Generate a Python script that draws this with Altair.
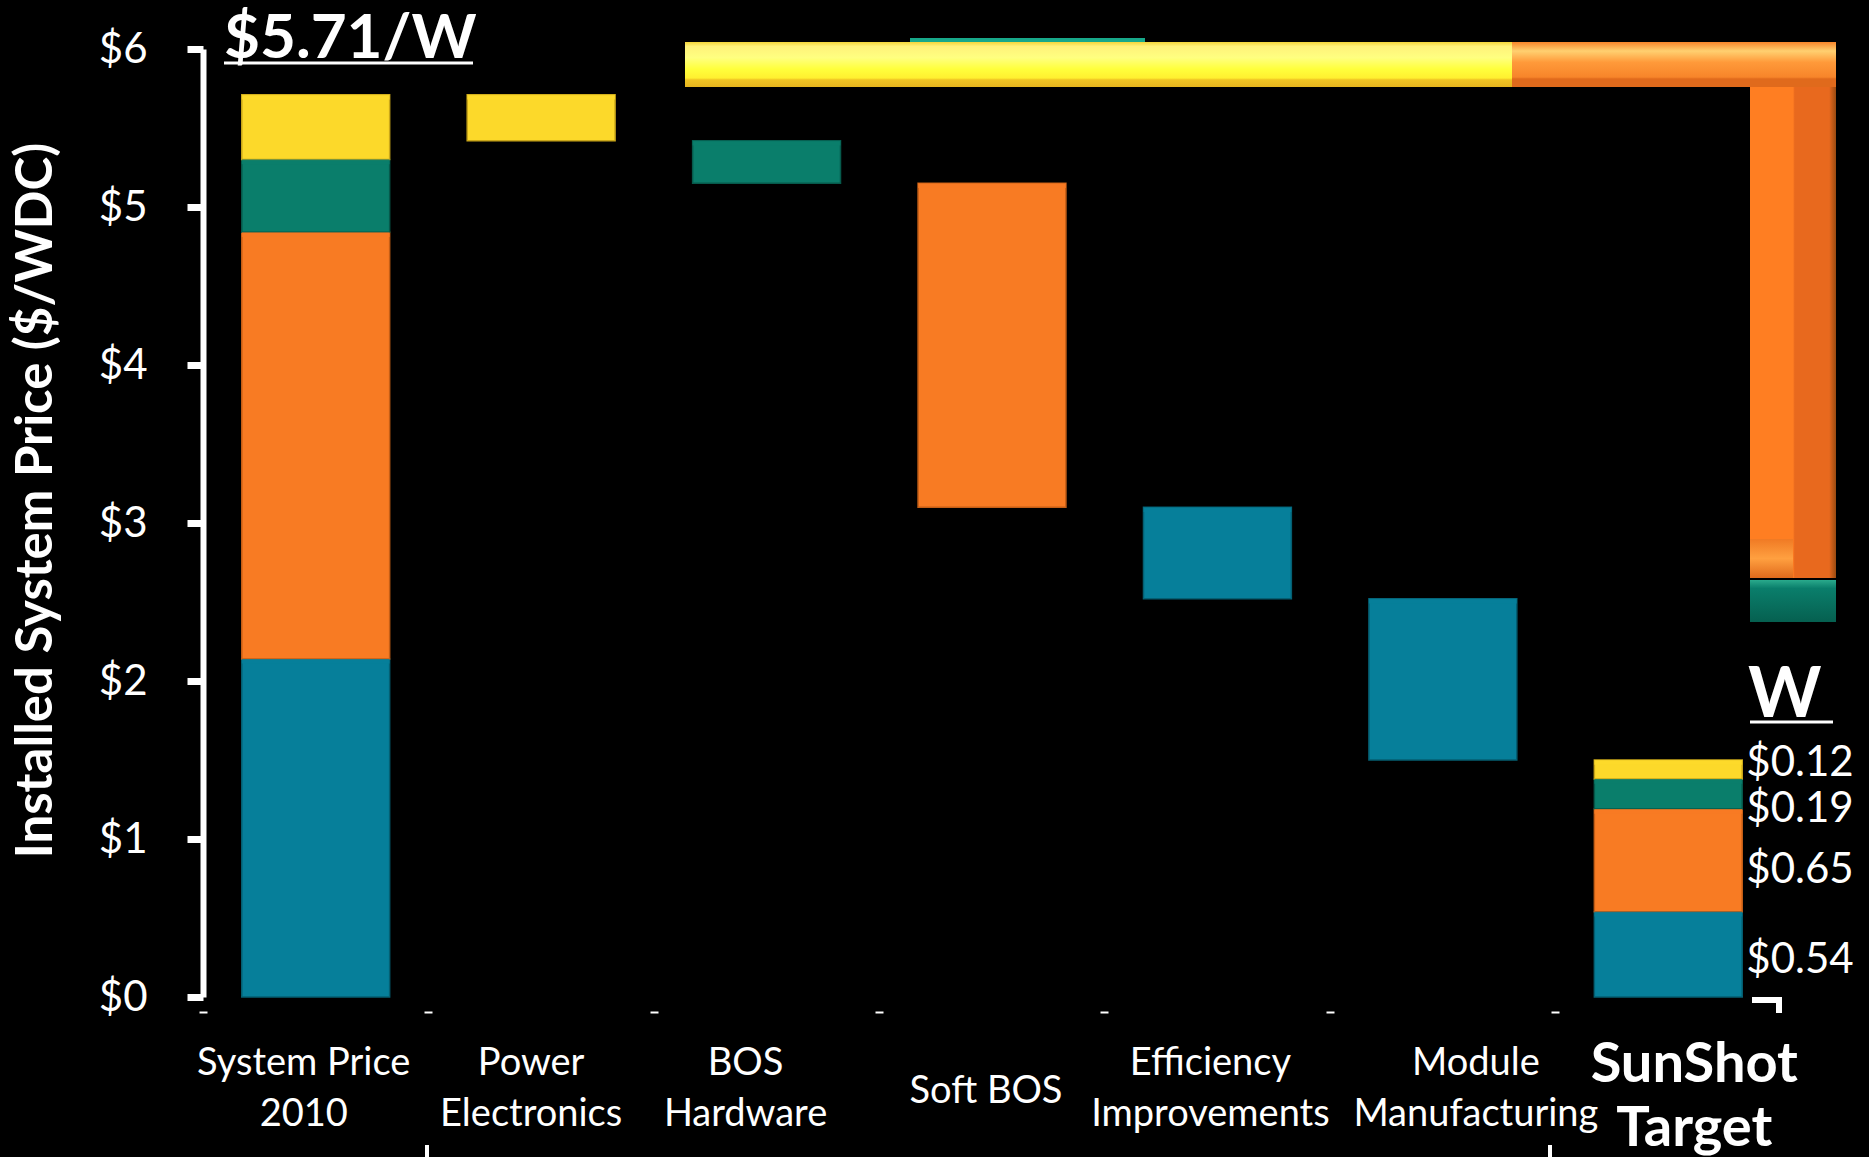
import altair as alt
import pandas as pd

# ---------------- data ----------------
steps = ["System Price 2010", "Power Electronics", "BOS Hardware", "Soft BOS",
         "Efficiency Improvements", "Module Manufacturing", "SunShot Target"]
step_labels = ["System Price|2010", "Power|Electronics", "BOS|Hardware", "Soft BOS",
               "Efficiency|Improvements", "Module|Manufacturing", "SunShot|Target"]
components = ["Module", "Soft BOS", "BOS Hardware", "Power Electronics"]
price_2010 = [2.14, 2.70, 0.46, 0.41]
price_target = [0.54, 0.65, 0.19, 0.12]
reduction_steps = ["Power Electronics", "BOS Hardware", "Soft BOS",
                   "Efficiency Improvements", "Module Manufacturing"]
reduction_components = ["Power Electronics", "BOS Hardware", "Soft BOS", "Module", "Module"]
reduction_values = [0.29, 0.27, 2.05, 0.58, 1.02]
y_ticks = [0, 1, 2, 3, 4, 5, 6]
title_2010 = "$5.71/W"
title_target_tail = "W"

# ---------------- styles / layout ----------------
comp_colors = ["#067F9A", "#F87B23", "#0A7E6B", "#FCD92A"]
comp_strokes = ["#045F72", "#C45E16", "#06594B", "#C9A619"]
comp_highlights = ["#3FB4CF", "#FFA552", "#35B394", "#FFF07A"]
FONT = "Lato"
W, H = 1578, 948
PAD_L, PAD_T = 203, 49
PAD_R = 1869 - PAD_L - W
PAD_B = 1157 - PAD_T - H
label_dx = [-12, -10, -21, -6, -7, 33, 26]   # horizontal nudges of the category labels (px)

# ---------------- build table ----------------
rows = []


def stack(step, vals):
    base = 0.0
    for c, v in zip(components, vals):
        rows.append(dict(step=step, component=c, y0=base, y1=base + v))
        base += v


stack(steps[0], price_2010)
level = sum(price_2010)
for s, c, v in zip(reduction_steps, reduction_components, reduction_values):
    rows.append(dict(step=s, component=c, y0=level - v, y1=level))
    level -= v
stack(steps[-1], price_target)
bars_df = pd.DataFrame(rows)
bars_df["hl"] = bars_df.y1 - 0.03

labels_df = pd.DataFrame({"step": steps, "label": step_labels})

tgt = bars_df[bars_df.step == steps[-1]].copy()
tgt["mid"] = (tgt.y0 + tgt.y1) / 2
tgt["text"] = ["$%.2f" % v for v in price_target]

# ---------------- encodings ----------------
x_axis = alt.Axis(title=None, labels=False, domain=False, ticks=True,
                  tickColor="white", tickSize=2, tickWidth=8,
                  bandPosition=0, tickOffset=-39, offset=14)
x_enc = alt.X("step:N", sort=steps,
              scale=alt.Scale(paddingInner=0.344, paddingOuter=0.172),
              axis=x_axis)
y_axis = alt.Axis(values=y_ticks, labelExpr="'$' + datum.value", grid=False,
                  domainColor="white", domainWidth=6,
                  tickColor="white", tickWidth=7, tickSize=16,
                  labelColor="white", labelFont=FONT, labelFontSize=42,
                  labelPadding=40,
                  title="Installed System Price ($/WDC)", titleColor="white",
                  titleFont=FONT, titleFontSize=51, titleFontWeight="bold",
                  titleAngle=270, titleX=-167, titleY=451,
                  titleAlign="center", titleBaseline="middle")
y_scale = alt.Scale(domain=[0, 6], nice=False)

bars = alt.Chart(bars_df).mark_bar(strokeWidth=1.5).encode(
    x=x_enc,
    y=alt.Y("y0:Q", scale=y_scale, axis=y_axis),
    y2="y1:Q",
    color=alt.Color("component:N", scale=alt.Scale(domain=components, range=comp_colors), legend=None),
    stroke=alt.Stroke("component:N", scale=alt.Scale(domain=components, range=comp_strokes), legend=None),
)

highlights = alt.Chart(bars_df).mark_bar(opacity=0.8).encode(
    x=x_enc,
    y=alt.Y("hl:Q", scale=y_scale, axis=y_axis),
    y2="y1:Q",
    color=alt.Color("component:N", scale=alt.Scale(domain=components, range=comp_highlights), legend=None),
)

cat_layers = []
for i, (s, lab) in enumerate(zip(steps, step_labels)):
    sub = labels_df[labels_df.step == s]
    if s == steps[-1]:
        mk = alt.Chart(sub).mark_text(font=FONT, fontSize=56, fontWeight="bold", color="white",
                                      lineBreak="|", lineHeight=64, baseline="middle",
                                      align="center", dx=label_dx[i])
        yv = 1065 - PAD_T
    elif "|" in lab:
        mk = alt.Chart(sub).mark_text(font=FONT, fontSize=38, color="white", lineBreak="|",
                                      lineHeight=51, baseline="middle", align="center",
                                      dx=label_dx[i])
        yv = 1064 - PAD_T
    else:
        mk = alt.Chart(sub).mark_text(font=FONT, fontSize=38, color="white",
                                      baseline="middle", align="center", dx=label_dx[i])
        yv = 1092 - PAD_T
    cat_layers.append(mk.encode(x=x_enc, y=alt.value(yv), text="label:N"))

label_dy = {"Power Electronics": -6, "BOS Hardware": 15, "Soft BOS": 10, "Module": 6}
right_labels = []
for c in components:
    right_labels.append(
        alt.Chart(tgt[tgt.component == c]).mark_text(
            font=FONT, fontSize=42, color="white", align="left", baseline="middle",
            dx=78, dy=label_dy[c]
        ).encode(x=x_enc, y=alt.Y("mid:Q", scale=y_scale, axis=y_axis), text="text:N")
    )

one = pd.DataFrame({"d": [0]})


def px(v):
    return v - PAD_L


def py(v):
    return v - PAD_T


def rect(x1, x2, y1, y2, color):
    return alt.Chart(one).mark_rect(color=color).encode(
        x=alt.value(px(x1)), x2=alt.value(px(x2)),
        y=alt.value(py(y1)), y2=alt.value(py(y2)))


def rule(x1, x2, y1, y2, width):
    return alt.Chart(one).mark_rule(color="white", strokeWidth=width).encode(
        x=alt.value(px(x1)), x2=alt.value(px(x2)),
        y=alt.value(py(y1)), y2=alt.value(py(y2)))


def vgrad(stops):
    return {"gradient": "linear", "x1": 0, "x2": 0, "y1": 0, "y2": 1,
            "stops": [{"offset": o, "color": c} for o, c in stops]}


def hgrad(stops):
    return {"gradient": "linear", "x1": 0, "x2": 1, "y1": 0, "y2": 0,
            "stops": [{"offset": o, "color": c} for o, c in stops]}


yellow_g = vgrad([(0, "#F5D63A"), (0.1, "#FFF27A"), (0.35, "#FFFF80"), (0.6, "#FFFF3C"),
                  (0.8, "#FFF030"), (0.84, "#F0C424"), (1, "#E6B41E")])
orange_hg = vgrad([(0, "#F7852A"), (0.2, "#FFD070"), (0.45, "#FF9A3A"), (0.78, "#F7852A"),
                   (0.82, "#E06A1C"), (1, "#E06A1C")])
orange_vg = hgrad([(0, "#FF7E22"), (0.5, "#FF7E22"), (0.52, "#E8691E"), (0.92, "#E8691E"),
                   (1, "#9A4A10")])
orange_tail = vgrad([(0, "#F07A24"), (0.5, "#FFA040"), (1, "#E06A1C")])
teal_g = vgrad([(0, "#2AAA8C"), (0.2, "#0A7E6B"), (1, "#066050")])

decor = [
    rect(910, 1145, 38, 42, "#17A88A"),
    rect(685, 1512, 42, 87, yellow_g),
    rect(1512, 1836, 42, 87, orange_hg),
    rect(1750, 1836, 87, 578, orange_vg),
    rect(1750, 1793, 539, 578, orange_tail),
    rect(1750, 1836, 580, 622, teal_g),
]

texts = [
    alt.Chart(one).mark_text(text=title_2010, font=FONT, fontSize=62, fontWeight="bold",
                             color="white", align="left", baseline="alphabetic").encode(
        x=alt.value(px(224)), y=alt.value(py(58))),
    rule(224, 473, 63, 63, 3),
    alt.Chart(one).mark_text(text=title_target_tail, font=FONT, fontSize=70, fontWeight="bold",
                             color="white", align="left", baseline="alphabetic").encode(
        x=alt.value(px(1748)), y=alt.value(py(717))),
    rule(1750, 1833, 722, 722, 3),
    rule(1752, 1782, 1000, 1000, 6),
    rule(1779, 1779, 997, 1013, 6),
    rule(427, 427, 1145, 1157, 4),
    rule(1550, 1550, 1145, 1157, 4),
]

chart = alt.layer(
    *decor, bars, highlights, *cat_layers, *right_labels, *texts
).properties(
    width=W, height=H, background="black",
    padding={"left": PAD_L, "top": PAD_T, "right": PAD_R, "bottom": PAD_B},
    autosize=alt.AutoSizeParams(type="none"),
).configure_view(strokeWidth=0)

chart.save("out.html", embed_options={"renderer": "svg", "actions": False})
